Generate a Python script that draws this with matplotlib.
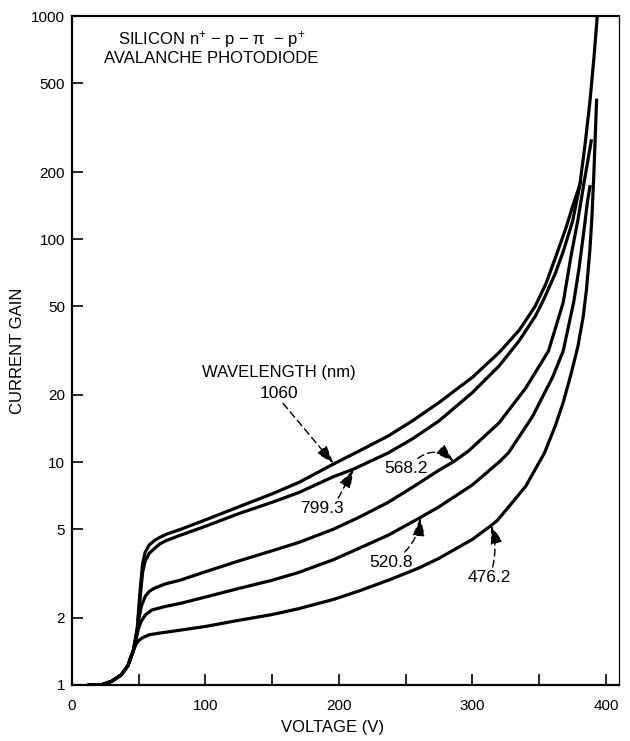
import matplotlib
matplotlib.use("Agg")
import matplotlib.pyplot as plt
import matplotlib.ticker as mtick

plt.rcParams.update({
    "font.family": ["Liberation Sans", "DejaVu Sans"],
    "font.size": 11,
    "mathtext.fontset": "custom",
    "mathtext.rm": "Liberation Sans",
    "mathtext.it": "Liberation Sans",
})

# ── data (voltage V, current gain) ──
v_start = [13, 22, 30, 37, 42, 46]
g_start = [1.0, 1.0, 1.04, 1.11, 1.22, 1.42]

v_1060 = v_start + [49, 51, 53, 55, 58, 62, 66, 71, 81, 100, 125, 150, 170, 196, 215,
                    237, 255, 275, 300, 320, 335, 347, 355, 362, 370, 375, 380.5,
                    384.5, 388, 391, 393.5]
g_1060 = g_start + [1.8, 2.6, 3.5, 3.95, 4.25, 4.45, 4.6, 4.75, 4.98, 5.5, 6.3, 7.2,
                    8.1, 9.8, 11.2, 13.1, 15.3, 18.5, 24, 31, 39, 50, 63, 82, 112,
                    140, 176, 270, 414, 650, 1000]

v_799 = v_start + [49, 51, 53, 55, 58, 62, 66, 71, 81, 100, 125, 150, 170, 196, 211,
                   237, 255, 275, 300, 320, 335, 347, 353, 362, 368, 375, 381]
g_799 = g_start + [1.75, 2.4, 3.2, 3.6, 3.9, 4.1, 4.3, 4.45, 4.69, 5.15, 5.87, 6.6,
                   7.3, 8.6, 9.3, 11.0, 12.7, 15.3, 20.5, 27, 35, 45, 53, 70, 88,
                   120, 181]

v_568 = v_start + [48, 50, 52, 55, 58, 62, 70, 81, 100, 125, 150, 170, 196, 215, 237,
                   255, 275, 286, 297, 320, 340, 357, 368, 374, 379, 384, 389]
g_568 = g_start + [1.62, 1.95, 2.25, 2.5, 2.63, 2.72, 2.84, 2.95, 3.22, 3.6, 4.0,
                   4.36, 5.0, 5.65, 6.6, 7.7, 9.2, 10.05, 11.2, 15, 21.5, 31.5, 52,
                   85, 122, 185, 276]

v_520 = v_start + [48, 50, 52, 55, 60, 70, 81, 100, 125, 150, 170, 196, 215, 237, 261,
                   275, 300, 320, 327, 345, 360, 368, 376, 380, 384, 386, 388]
g_520 = g_start + [1.6, 1.8, 1.93, 2.06, 2.17, 2.25, 2.32, 2.48, 2.71, 2.95, 3.2,
                   3.65, 4.1, 4.7, 5.64, 6.3, 7.9, 10.0, 11.0, 16, 24, 31.5, 52.7,
                   75, 115, 145, 172]

v_476 = [13, 22, 30, 37, 42, 44, 46, 48, 50, 53, 58, 66, 75, 100, 125, 150, 170, 196,
         215, 237, 260, 275, 300, 314, 319, 330, 340, 354, 362, 368, 374, 379, 383,
         385.5, 388, 389.5, 391, 393]
g_476 = [1.0, 1.0, 1.04, 1.11, 1.22, 1.33, 1.42, 1.52, 1.58, 1.63, 1.68, 1.71, 1.74,
         1.83, 1.95, 2.07, 2.2, 2.42, 2.64, 2.95, 3.35, 3.7, 4.5, 5.19, 5.5, 6.6, 7.8,
         11.0, 14.5, 18.5, 25, 33, 45, 60, 90, 125, 200, 420]

y_ticks = [1, 2, 5, 10, 20, 50, 100, 200, 500, 1000]

fig = plt.figure(figsize=(6.3, 7.41), dpi=100)
ax = fig.add_axes([0.114, 0.0756, 0.869, 0.9025])

for v, g in [(v_1060, g_1060), (v_799, g_799), (v_568, g_568),
             (v_520, g_520), (v_476, g_476)]:
    ax.plot(v, g, color="black", lw=2.3, solid_joinstyle="round")

ax.set_yscale("log")
ax.set_xlim(0, 410)
ax.set_ylim(1, 1000)
ax.yaxis.set_major_locator(mtick.FixedLocator(y_ticks))
ax.yaxis.set_major_formatter(mtick.FixedFormatter([str(t) for t in y_ticks]))
ax.yaxis.set_minor_locator(mtick.NullLocator())
ax.xaxis.set_major_locator(mtick.MultipleLocator(50))
ax.xaxis.set_major_formatter(
    mtick.FuncFormatter(lambda v, _: f"{v:.0f}" if v % 100 == 0 else ""))
ax.tick_params(axis="both", direction="in", length=8, width=1.2, labelsize=11)
ax.tick_params(axis="x", pad=10)
ax.tick_params(axis="y", pad=5)
for side in ("left", "bottom", "top"):
    ax.spines[side].set_linewidth(1.6)
ax.spines["right"].set_linewidth(0.9)

ax.set_xlabel("VOLTAGE (V)", fontsize=12, labelpad=6)
ax.xaxis.set_label_coords(0.477, -0.052)
ax.set_ylabel("CURRENT GAIN", fontsize=12, labelpad=4)

ax.text(104.5, 786, "SILICON n$^{+}$ \u2212 p \u2212 \u03c0  \u2212 p$^{+}$", fontsize=12,
        ha="center", va="center")
ax.text(104.5, 645, "AVALANCHE PHOTODIODE", fontsize=12, ha="center", va="center")

ax.text(155, 25.2, "WAVELENGTH (nm)", fontsize=12, ha="center", va="center")

arrow = dict(arrowstyle="-|>,head_length=0.9,head_width=0.3", color="black",
             lw=1.0, linestyle=(0, (5, 3)), shrinkA=0, shrinkB=0)

ax.annotate("1060", xy=(196, 9.84), xytext=(155, 20.4), fontsize=12.5,
            ha="center", va="center",
            arrowprops=dict(arrow, relpos=(0.55, 0.0)))
ax.annotate("799.3", xy=(211, 9.27), xytext=(187, 6.2), fontsize=12.5,
            ha="center", va="center",
            arrowprops=dict(arrow, relpos=(0.85, 1.0)))
ax.annotate("568.2", xy=(286, 10.05), xytext=(250, 9.34), fontsize=12.5,
            ha="center", va="center",
            arrowprops=dict(arrow, relpos=(0.7, 1.0),
                            connectionstyle="arc3,rad=-0.45"))
ax.annotate("520.8", xy=(261, 5.64), xytext=(239, 3.55), fontsize=12.5,
            ha="center", va="center",
            arrowprops=dict(arrow, relpos=(0.75, 1.0),
                            connectionstyle="arc3,rad=0.2"))
ax.annotate("476.2", xy=(314, 5.19), xytext=(313, 3.04), fontsize=12.5,
            ha="center", va="center",
            arrowprops=dict(arrow, relpos=(0.55, 1.0),
                            connectionstyle="arc3,rad=0.15"))

fig.savefig("out.png", dpi=100)
